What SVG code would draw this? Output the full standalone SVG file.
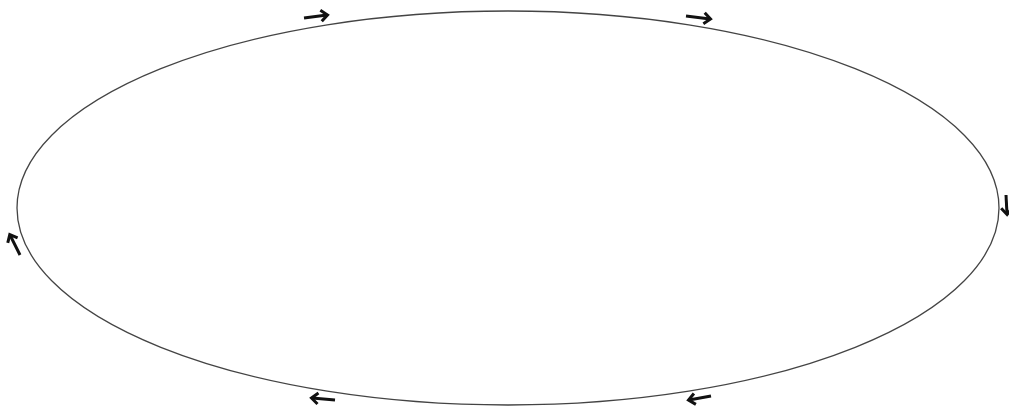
<svg xmlns="http://www.w3.org/2000/svg" width="1009" height="411" viewBox="0 0 1009 411">
<style>
.orbit{fill:none;stroke:#444;stroke-width:1.3}
.arr{fill:none;stroke:#111;stroke-width:3;stroke-linecap:butt;marker-end:url(#head)}
</style>
<defs>
<marker id="head" markerUnits="userSpaceOnUse" markerWidth="14" markerHeight="14" refX="9" refY="6" orient="auto" viewBox="0 0 14 12">
<path d="M3,0.5 L9.5,6 L3,11.5" fill="none" stroke="#111" stroke-width="3"/>
</marker>
</defs>
<rect width="1009" height="411" fill="#fff"/>
<g id="ellipse">
<ellipse class="orbit" cx="508" cy="208" rx="491" ry="197"/>
</g>
<g id="connectors">
<path class="arr" d="M304,18 L327,15"/>
<path class="arr" d="M686,16 L710,19"/>
<path class="arr" d="M1006,195 L1007,214"/>
<path class="arr" d="M20,255 L10,235"/>
<path class="arr" d="M335,400 L312,398"/>
<path class="arr" d="M711,396 L689,400"/>
</g>
</svg>
